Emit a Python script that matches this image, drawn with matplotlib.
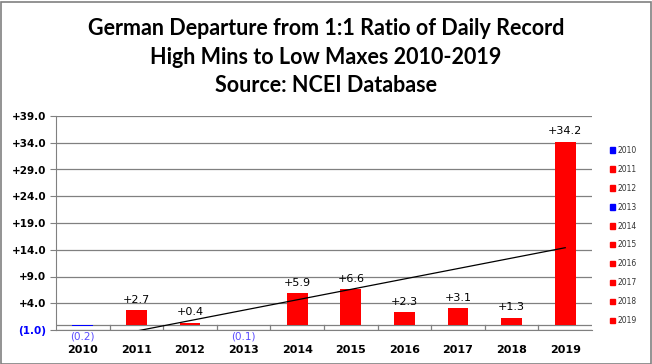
import matplotlib
matplotlib.use("Agg")
import matplotlib.pyplot as plt
import numpy as np
from matplotlib.patches import Rectangle

years = ["2010", "2011", "2012", "2013", "2014", "2015", "2016", "2017", "2018", "2019"]
values = [-0.2, 2.7, 0.4, -0.1, 5.9, 6.6, 2.3, 3.1, 1.3, 34.2]
yticks = [-1.0, 4.0, 9.0, 14.0, 19.0, 24.0, 29.0, 34.0, 39.0]
title = "German Departure from 1:1 Ratio of Daily Record\nHigh Mins to Low Maxes 2010-2019\nSource: NCEI Database"

RED = "#ff0000"
BLUE = "#0000ff"
NEG = "#5a4bff"
colors = [BLUE if v < 0 else RED for v in values]

W, H = 652, 364
fig = plt.figure(figsize=(W / 100, H / 100), dpi=100)
fig.patches.append(Rectangle((0.5 / W, 0.5 / H), 1 - 2 / W, 1 - 2 / H, transform=fig.transFigure,
                             fill=False, edgecolor="#808080", linewidth=1.2))

left, right, top, bottom = 56, 592, 116, 330
ax = fig.add_axes([left / W, 1 - bottom / H, (right - left) / W, (bottom - top) / H])

x = np.arange(1, len(values) + 1)
ax.bar(x, values, width=0.39, color=colors, zorder=3)

# linear trendline
slope, intercept = np.polyfit(x, values, 1)
xt = np.array([0.5, 10.0])
ax.plot(xt, slope * xt + intercept, color="black", linewidth=0.9, zorder=4)

ax.set_xlim(0.5, len(values) + 0.5)
ax.set_ylim(yticks[0], yticks[-1])
ax.set_yticks(yticks)
ax.set_yticklabels([f"({abs(t):.1f})" if t < 0 else f"+{t:.1f}" for t in yticks],
                   fontsize=7.5, fontweight="bold")
for lab, t in zip(ax.get_yticklabels(), yticks):
    lab.set_color(BLUE if t < 0 else "black")
ax.tick_params(axis="y", length=4, width=0.8, color="#808080", pad=3)
ax.grid(axis="y", color="#808080", linewidth=0.9, zorder=0)
ax.axhline(0, color="#808080", linewidth=0.9, zorder=2)
for b in np.arange(1.5, len(values), 1.0):
    ax.plot([b, b], [yticks[0], 0], color="#808080", linewidth=0.9, zorder=2)

ax.set_xticks(x)
ax.set_xticklabels(years, fontsize=8, fontweight="bold")
ax.tick_params(axis="x", length=0, pad=11)

for s in ["top", "right"]:
    ax.spines[s].set_visible(False)
ax.spines["left"].set_color("#808080")
ax.spines["bottom"].set_color("#808080")

for xi, v in zip(x, values):
    if v >= 0:
        ax.annotate(f"+{v:.1f}", (xi, v), xytext=(0, 4), textcoords="offset points",
                    ha="center", va="bottom", fontsize=8, color="black")
    else:
        ax.annotate(f"({abs(v):.1f})", (xi, v), xytext=(0, -4.5), textcoords="offset points",
                    ha="center", va="top", fontsize=7.5, color=NEG, annotation_clip=False)

fig.text(0.5, 1 - 57 / H, title, ha="center", va="center", fontsize=15.5, fontweight="bold",
         family="Lato", linespacing=1.42)

# legend
handles = [Rectangle((0, 0), 1, 1, color=c) for c in colors]
leg = fig.legend(handles, years, loc="upper left", bbox_to_anchor=(606 / W, 1 - 142 / H),
                 frameon=False, fontsize=5.5, handlelength=0.7, handleheight=0.7,
                 handletextpad=0.3, labelspacing=1.3, borderpad=0)
for t in leg.get_texts():
    t.set_color("#333333")

fig.savefig("out.png", dpi=100)
